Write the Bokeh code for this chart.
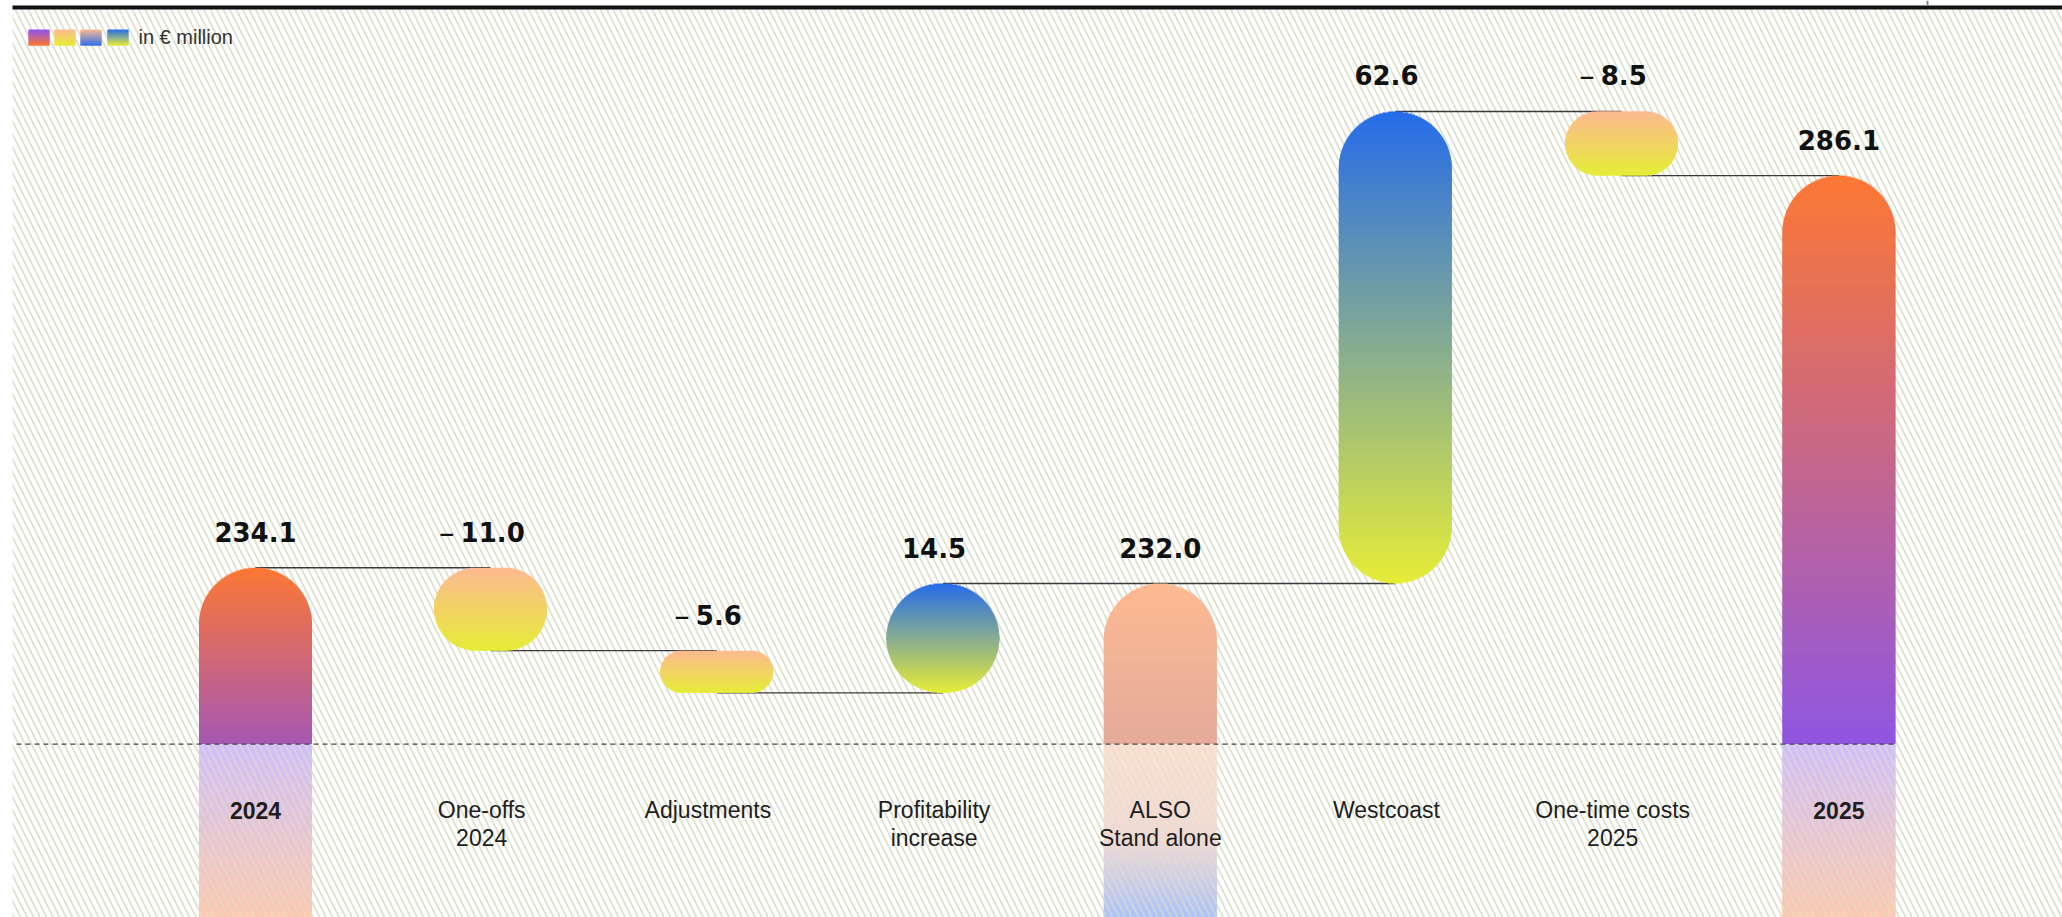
import math
from bokeh.plotting import figure
from bokeh.models import Range1d
from bokeh.embed import file_html
from bokeh.resources import INLINE
from bokeh.core.properties import value

# ---- data (EBIT bridge, in EUR million) ----
categories = ["2024", "One-offs\n2024", "Adjustments", "Profitability\nincrease",
              "ALSO\nStand alone", "Westcoast", "One-time costs\n2025", "2025"]
amounts = [234.1, -11.0, -5.6, 14.5, 232.0, 62.6, -8.5, 286.1]
is_total = [True, False, False, False, True, False, False, True]
bold_labels = [True, False, False, False, False, False, False, True]

# ---- canvas / scale settings ----
W, H = 2062, 917
X_START, X_END = -1.1273, 7.9885
Y_START, Y_END = 187.71, 309.32
BREAK = 210.7          # axis break drawn as dashed line
BAR_PX = 113           # bar width in pixels
DELTA_NUDGE_PX = 8.8   # change bars sit slightly right of their slot
FADE_ALPHA = 0.4       # opacity of the bar parts below the break
HATCH = dict(hatch_pattern="\\", hatch_color="#dde0cd", hatch_scale=13, hatch_weight=1.7)

SX = W / (X_END - X_START)
SY = H / (Y_END - Y_START)


def y_to_py(v):
    return (Y_END - v) * SY


def py_to_y(py):
    return Y_END - py / SY


def px_to_x(px):
    return X_START + px / SX


def hexc(rgb):
    return "#%02x%02x%02x" % tuple(int(round(c)) for c in rgb)


def lerp_stops(stops, t, alpha=1.0):
    t = min(max(t, 0.0), 1.0)
    col = stops[-1][1]
    for (p0, c0), (p1, c1) in zip(stops[:-1], stops[1:]):
        if t <= p1:
            f = 0 if p1 == p0 else (t - p0) / (p1 - p0)
            col = [a + (b - a) * f for a, b in zip(c0, c1)]
            break
    # blend over white for the faded parts
    return hexc([alpha * c + (1 - alpha) * 255 for c in col])


ORANGE = (252, 120, 52)
PEACH = (253, 185, 145)
YELLOW = (230, 237, 55)
BLUE = (38, 108, 234)

# gradient per bar (top -> bottom) of the visible upper part
upper_grad = [
    [(0, ORANGE), (1, (166, 88, 180))],
    [(0, PEACH), (1, YELLOW)],
    [(0, PEACH), (1, YELLOW)],
    [(0, BLUE), (1, YELLOW)],
    [(0, PEACH), (1, (228, 171, 155))],
    [(0, BLUE), (1, YELLOW)],
    [(0, PEACH), (1, YELLOW)],
    [(0, ORANGE), (1, (143, 86, 226))],
]
# faded continuation of the totals below the break
lower_grad = {
    0: [(0, (139, 92, 246)), (1, ORANGE)],
    4: [(0, (250, 180, 140)), (0.55, (222, 160, 150)), (1, (45, 105, 235))],
    7: [(0, (139, 92, 246)), (1, ORANGE)],
}

# ---- waterfall geometry ----
slots = list(range(len(categories)))
bar_x = [s if tot else s + DELTA_NUDGE_PX / SX for s, tot in zip(slots, is_total)]
tops, bottoms, levels = [], [], []
running = 0.0
for amt, tot in zip(amounts, is_total):
    if tot:
        running = amt
        tops.append(amt)
        bottoms.append(BREAK)
    else:
        start, running = running, running + amt
        tops.append(max(start, running))
        bottoms.append(min(start, running))
    levels.append(running)

p = figure(width=W, height=H, x_range=Range1d(X_START, X_END),
           y_range=Range1d(Y_START, Y_END), output_backend="svg",
           toolbar_location=None, min_border=0,
           x_axis_location=None, y_axis_location=None)
p.grid.visible = False
p.outline_line_color = None
p.background_fill_color = "white"
p.border_fill_color = "white"

# hatched backdrop and top rule
p.quad(left=px_to_x(12), right=X_END, top=py_to_y(9), bottom=Y_START,
       fill_color="white", line_color=None, **HATCH)
p.quad(left=px_to_x(12), right=X_END, top=py_to_y(5), bottom=py_to_y(9),
       fill_color="#111111", line_color=None)
p.segment(x0=px_to_x(1927), x1=px_to_x(1927), y0=py_to_y(0), y1=py_to_y(5),
          line_color="#888888", line_width=2)

# connectors between bars
p.segment(x0=bar_x[:-1], x1=bar_x[1:], y0=levels[:-1], y1=levels[:-1],
          line_color="#3a3a3a", line_width=1.4)


def gradient_shape(xc, y_top, y_bot, stops, round_top, round_bot, alpha=1.0):
    """Pill-shaped bar filled with a vertical gradient, built from 1px rows."""
    pt, pb = y_to_py(y_top), y_to_py(y_bot)
    h = pb - pt
    half = BAR_PX / 2
    if round_top and round_bot:
        rad = min(BAR_PX, h) / 2
    else:
        rad = min(half, h)
    mid = (pt + pb) / 2
    upper, lower = [], []
    for row in range(int(math.floor(pt)), int(math.ceil(pb))):
        a, b = max(row, pt), min(row + 1, pb)
        if b <= a:
            continue
        yc = (a + b) / 2
        hw = half
        if round_top and yc < pt + rad:
            d = pt + rad - yc
            hw = half - rad + math.sqrt(max(rad * rad - d * d, 0))
        if round_bot and yc > pb - rad:
            d = yc - (pb - rad)
            hw = min(hw, half - rad + math.sqrt(max(rad * rad - d * d, 0)))
        col = lerp_stops(stops, (yc - pt) / h, alpha)
        # rows overlap their wider neighbour so no seams show between them
        if yc <= mid:
            upper.append((xc - hw / SX, xc + hw / SX, py_to_y(a), py_to_y(min(b + 1, pb)), col))
        else:
            lower.append((xc - hw / SX, xc + hw / SX, py_to_y(max(a - 1, pt)), py_to_y(b), col))
    rows = upper + lower[::-1]
    p.quad(left=[q[0] for q in rows], right=[q[1] for q in rows],
           top=[q[2] for q in rows], bottom=[q[3] for q in rows],
           fill_color=[q[4] for q in rows], line_color=None)


for i in slots:
    if is_total[i]:
        gradient_shape(bar_x[i], tops[i], BREAK, upper_grad[i], True, False)
        gradient_shape(bar_x[i], BREAK, Y_START, lower_grad[i], False, False, alpha=FADE_ALPHA)
        # background hatch showing through the faded part
        p.quad(left=bar_x[i] - BAR_PX / 2 / SX, right=bar_x[i] + BAR_PX / 2 / SX,
               top=BREAK, bottom=Y_START, fill_alpha=0, line_color=None,
               hatch_alpha=1 - FADE_ALPHA, **HATCH)
    else:
        gradient_shape(bar_x[i], tops[i], bottoms[i], upper_grad[i], True, True)

# break line
p.segment(x0=px_to_x(16), x1=bar_x[-1] + BAR_PX / 2 / SX, y0=BREAK, y1=BREAK,
          line_color="#444444", line_width=1.3, line_dash="5 4")

# value labels: the whole label (sign included) is centred on the slot
VAL_FONT = 26
VAL_OFF = -36
DASH_W, DASH_GAP = 15, 7
num_text = ["%.1f" % abs(a) for a in amounts]
num_off = [(DASH_W + DASH_GAP) / 2 if a < 0 else 0 for a in amounts]
p.text(x=slots, y=tops, text=num_text, x_offset=num_off, text_align="center",
       text_baseline="alphabetic", y_offset=VAL_OFF, text_font=value("DejaVu Sans"),
       text_font_style="bold", text_font_size="%dpx" % VAL_FONT, text_color="#111111")
neg_x, neg_y, neg_off = [], [], []
for i, a in enumerate(amounts):
    if a < 0:
        digits = sum(ch.isdigit() for ch in num_text[i])
        width = VAL_FONT * (0.696 * digits + 0.381)
        neg_x.append(slots[i])
        neg_y.append(tops[i])
        neg_off.append(num_off[i] - width / 2 - 6)
p.text(x=neg_x, y=neg_y, text=["\u2013"] * len(neg_x), x_offset=neg_off, y_offset=VAL_OFF,
       text_align="right", text_baseline="alphabetic", text_font=value("DejaVu Sans"),
       text_font_size="31px", text_color="#111111")

# category labels (one or two lines)
for line_no, off in enumerate([66, 93.5]):
    for bold in (False, True):
        lx, lt = [], []
        for i, c in enumerate(categories):
            parts = c.split("\n")
            if line_no < len(parts) and bold_labels[i] == bold:
                lx.append(slots[i])
                lt.append(parts[line_no])
        if lx:
            p.text(x=lx, y=[BREAK] * len(lx), text=lt, y_offset=off,
                   text_align="center", text_baseline="alphabetic",
                   text_font=value("Liberation Sans"),
                   text_font_style="bold" if bold else "normal",
                   text_font_size="23px", text_color="#1e1e1e")

# legend swatches and unit note
swatch_grads = [
    [(0, (140, 82, 240)), (1, ORANGE)],
    [(0, PEACH), (1, YELLOW)],
    [(0, PEACH), (1, (50, 110, 235))],
    [(0, BLUE), (1, YELLOW)],
]
for left_px, grad in zip([28, 54, 80, 107], swatch_grads):
    L, R, T, B, C = [], [], [], [], []
    for row in range(29, 45):
        L.append(px_to_x(left_px))
        R.append(px_to_x(left_px + 21))
        T.append(py_to_y(row))
        B.append(py_to_y(min(row + 2, 45)))
        C.append(lerp_stops(grad, (row - 29 + 0.5) / 16))
    p.quad(left=L, right=R, top=T, bottom=B, fill_color=C, line_color=None)
p.text(x=[px_to_x(138)], y=[py_to_y(36)], text=["in \u20ac million"],
       text_align="left", text_baseline="alphabetic",
       text_font=value("Liberation Sans"), text_font_size="20px", text_color="#333333")

open("out.html", "w").write(file_html(p, INLINE))
